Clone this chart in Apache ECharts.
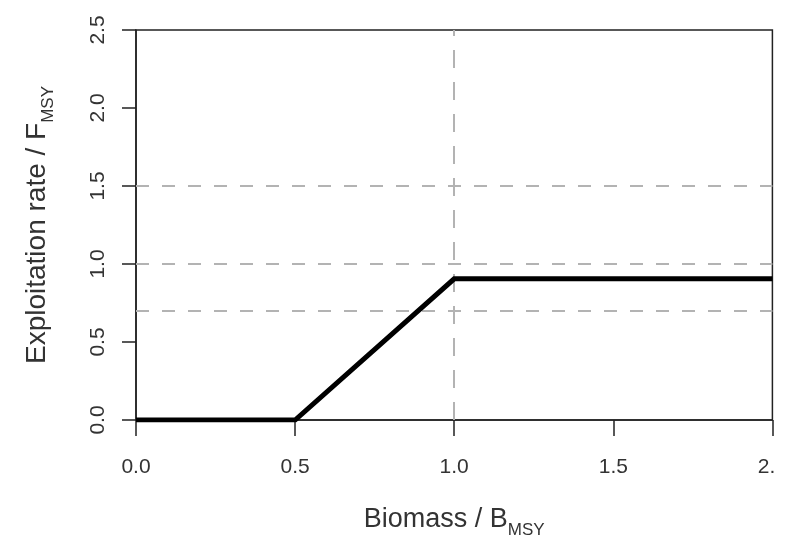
<!DOCTYPE html>
<html>
<head>
<meta charset="utf-8">
<script src="https://cdn.jsdelivr.net/npm/echarts@6/dist/echarts.min.js"></script>
<style>
html,body{margin:0;padding:0;background:#fff;}
#chart{width:790px;height:544px;}
</style>
</head>
<body>
<div id="chart"></div>
<script>
// Harvest control rule
const hcrX = [0.0, 0.5, 1.0, 2.0];
const hcrY = [0.0, 0.0, 0.905, 0.905];
// Reference (dashed) lines
const refLinesY = [0.7, 1.0, 1.5];
const refLinesX = [1.0];
// Tick labels
const xTickLabels = ['0.0', '0.5', '1.0', '1.5', '2.0'];
const yTickLabels = ['0.0', '0.5', '1.0', '1.5', '2.0', '2.5'];

const FONT = '"Liberation Sans", Arial, sans-serif';
const TICK_FS = 21;
const chart = echarts.init(document.getElementById('chart'), null, {renderer: 'canvas'});

const hcrData = hcrX.map((x, i) => [x, hcrY[i]]);
const markData = [
  ...refLinesY.map(v => ({yAxis: v, lineStyle: {type: [13, 13]}})),
  ...refLinesX.map(v => ({xAxis: v, lineStyle: {type: [18, 14]}}))
];

function titleRich(fs) {
  return {
    m: {fontFamily: FONT, fontSize: fs, color: '#333', lineHeight: fs + 6, verticalAlign: 'top'},
    s: {fontFamily: FONT, fontSize: 17, color: '#333', lineHeight: 17, verticalAlign: 'bottom'}
  };
}

chart.setOption({
  animation: false,
  backgroundColor: '#ffffff',
  grid: {left: 136, right: 9, top: 30, bottom: 121, show: true, borderColor: '#222', borderWidth: 1.5},
  xAxis: {
    type: 'value', min: 0, max: 2, interval: 0.5,
    name: '{m|Biomass / B}{s|MSY}', nameLocation: 'middle', nameGap: 86,
    nameTextStyle: {rich: titleRich(27)},
    axisLine: {show: true, onZero: false, lineStyle: {color: '#222', width: 1.5}},
    axisTick: {show: true, inside: false, length: 16, lineStyle: {color: '#222', width: 1.5}},
    axisLabel: {
      show: true, margin: 37, fontFamily: FONT, fontSize: TICK_FS, color: '#333',
      formatter: (v) => {
        const idx = Math.round(v / 0.5);
        const t = xTickLabels[idx];
        if (idx === xTickLabels.length - 1) return '{a|' + t.slice(0, 2) + '}{b|' + t.slice(2) + '}';
        return t;
      },
      rich: {
        a: {fontFamily: FONT, fontSize: TICK_FS, color: '#333'},
        b: {fontFamily: FONT, fontSize: TICK_FS, color: 'rgba(255,255,255,0)'}
      }
    },
    splitLine: {show: false}
  },
  yAxis: {
    type: 'value', min: 0, max: 2.5, interval: 0.5,
    name: '{m|Exploitation rate / F}{s|MSY}', nameLocation: 'middle', nameGap: 79, nameRotate: 90,
    nameTextStyle: {rich: titleRich(28)},
    axisLine: {show: true, onZero: false, lineStyle: {color: '#222', width: 1.5}},
    axisTick: {show: true, inside: false, length: 14, lineStyle: {color: '#222', width: 1.5}},
    axisLabel: {
      show: true, rotate: 90, margin: 27, fontFamily: FONT, fontSize: TICK_FS, color: '#333',
      formatter: (v) => yTickLabels[Math.round(v / 0.5)]
    },
    splitLine: {show: false}
  },
  series: [
    {
      type: 'line', data: [], silent: true,
      markLine: {
        silent: true, symbol: ['none', 'none'], label: {show: false},
        lineStyle: {color: '#b3b3b3', width: 2},
        emphasis: {disabled: true},
        data: markData
      }
    },
    {
      type: 'line', data: hcrData, symbol: 'none', z: 5,
      lineStyle: {color: '#000', width: 5, cap: 'butt', join: 'miter'}
    }
  ]
});
</script>
</body>
</html>
